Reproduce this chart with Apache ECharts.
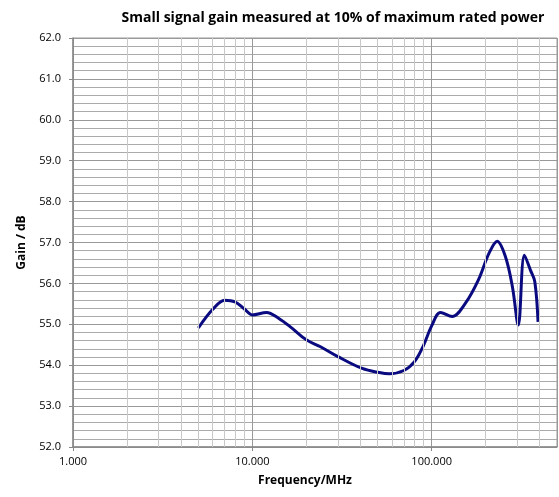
<!DOCTYPE html>
<html>
<head>
<meta charset="utf-8">
<script src="https://cdn.jsdelivr.net/npm/echarts@6/dist/echarts.min.js"></script>
<style>html,body{margin:0;padding:0;background:#fff}#c{width:559px;height:497px}</style>
</head>
<body>
<div id="c"></div>
<script>
const titleText = 'Small signal gain measured at 10% of maximum rated power';
const xName = 'Frequency/MHz';
const yName = 'Gain / dB';
const freqMHz = [5, 6, 7, 8, 9, 10, 12, 14, 16.7, 20, 24, 30, 41, 51, 58, 70, 80, 90, 100, 112, 130, 154, 182, 209, 232, 258, 282, 304, 329, 355, 376, 392];
const gainDB  = [54.91, 55.36, 55.59, 55.55, 55.38, 55.23, 55.29, 55.15, 54.90, 54.62, 54.45, 54.21, 53.92, 53.82, 53.79, 53.87, 54.08, 54.48, 54.96, 55.29, 55.19, 55.51, 56.08, 56.74, 57.03, 56.65, 55.92, 54.98, 56.69, 56.33, 56.04, 55.06];
const minorFreqs = [2,3,4,5,6,7,8,9,20,30,40,50,60,70,80,90,200,300,400];
const majorFreqs = [1, 10, 100];

const chart = echarts.init(document.getElementById('c'));
const font = 'Open Sans';
chart.setOption({
  animation: false,
  title: {
    text: titleText, left: 328, top: 6, textAlign: 'center',
    textStyle: {fontFamily: font, fontSize: 14, fontWeight: 'bold', color: '#000'}
  },
  grid: {left: 73, right: 2, top: 38, bottom: 50, show: true, borderColor: '#999', borderWidth: 1},
  xAxis: {
    type: 'log', logBase: 10, min: 1, max: 500,
    name: xName, nameLocation: 'middle', nameGap: 28,
    nameTextStyle: {fontFamily: font, fontSize: 12, fontWeight: 'bold', color: '#000', padding: [0, 20, 0, 0]},
    axisLine: {lineStyle: {color: '#888', width: 1.5}},
    axisTick: {show: true, length: 4, lineStyle: {color: '#888'}},
    axisLabel: {fontFamily: font, fontSize: 11, color: '#000', margin: 9, showMaxLabel: false,
      formatter: v => majorFreqs.some(m => Math.abs(m - v) < 1e-6) ? v.toFixed(3) : ''},
    splitLine: {show: true, lineStyle: {color: '#999', width: 1}}
  },
  yAxis: {
    type: 'value', min: 52, max: 62, interval: 1,
    name: yName, nameLocation: 'middle', nameGap: 45,
    nameTextStyle: {fontFamily: font, fontSize: 12, fontWeight: 'bold', color: '#000'},
    axisLine: {show: true, lineStyle: {color: '#888', width: 1.5}},
    axisTick: {show: true, length: 4, lineStyle: {color: '#888'}},
    axisLabel: {fontFamily: font, fontSize: 11, color: '#000', margin: 12, formatter: v => v.toFixed(1)},
    splitLine: {show: true, lineStyle: {color: '#999', width: 1}},
    minorTick: {show: false, splitNumber: 5},
    minorSplitLine: {show: true, lineStyle: {color: '#aaa', width: 1}}
  },
  series: [
    {
      type: 'line', data: [], z: 1, silent: true,
      markLine: {
        silent: true, symbol: ['none', 'none'], label: {show: false},
        lineStyle: {color: '#c8c8c8', width: 1, type: 'solid'},
        data: minorFreqs.map(f => ({xAxis: f}))
      }
    },
    {
      type: 'line', z: 3,
      data: freqMHz.map((f, i) => [f, gainDB[i]]),
      smooth: 0.35, showSymbol: false, symbol: 'none',
      lineStyle: {color: '#0a0a80', width: 3}
    }
  ]
});
</script>
</body>
</html>
